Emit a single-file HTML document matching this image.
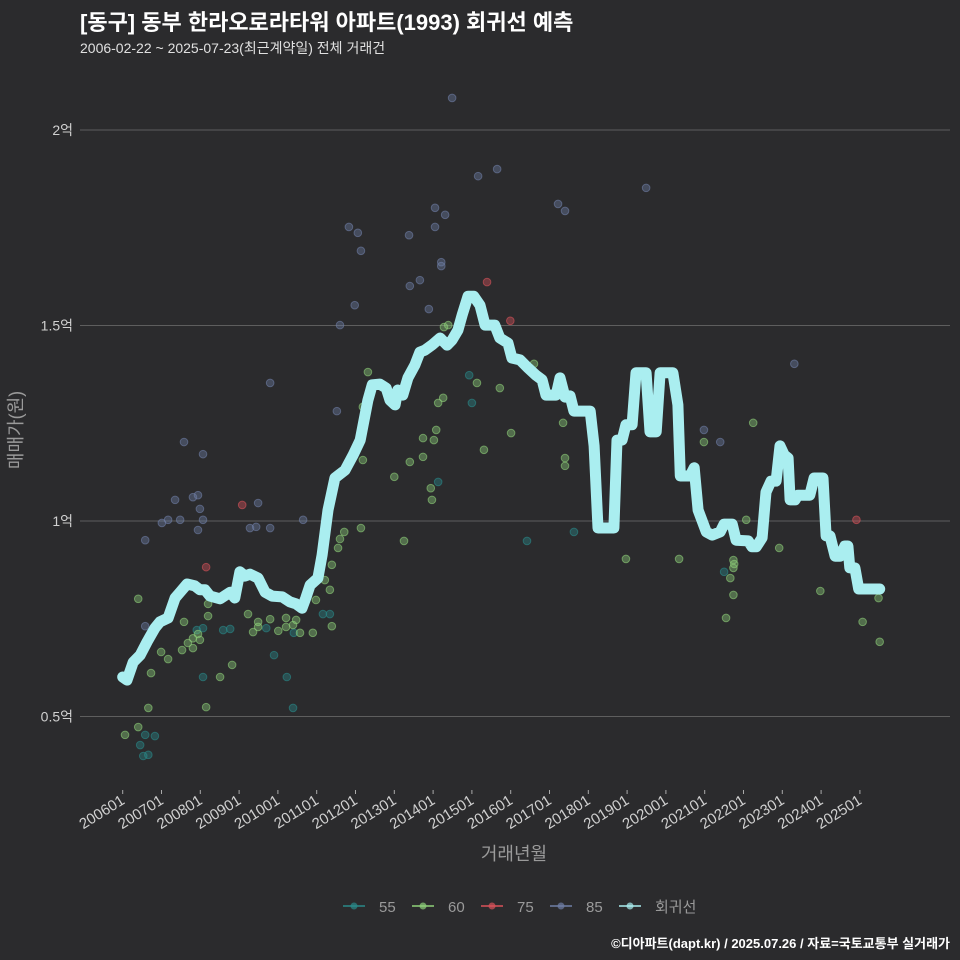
<!DOCTYPE html>
<html><head><meta charset="utf-8">
<style>
html,body{margin:0;padding:0;background:#2b2b2d;}
svg{display:block;font-family:"Liberation Sans","Noto Sans CJK KR",sans-serif;}
</style></head>
<body>
<svg id="chart" width="960" height="960" viewBox="0 0 960 960">
<rect x="0" y="0" width="960" height="960" fill="#2b2b2d"/>
<text x="80" y="30" fill="#ffffff" font-size="22" font-weight="bold">[동구] 동부 한라오로라타워 아파트(1993) 회귀선 예측</text>
<text x="80" y="53" fill="#e0e0e0" font-size="14">2006-02-22 ~ 2025-07-23(최근계약일) 전체 거래건</text>
<g id="grid"></g>
<g id="yticks"></g>
<g id="xticks"></g>
<g id="points"></g>
<g id="reg"></g>
<text x="22" y="430" fill="#9a9a9a" font-size="18" text-anchor="middle" transform="rotate(-90 22 430)">매매가(원)</text>
<text x="514" y="860" fill="#9a9a9a" font-size="18" text-anchor="middle">거래년월</text>
<g id="legend"></g>
<text x="950" y="948" fill="#ffffff" font-size="13" font-weight="bold" text-anchor="end">©디아파트(dapt.kr) / 2025.07.26 / 자료=국토교통부 실거래가</text>
</svg>
<script>
const yTicks=[0.5,1,1.5,2];
const yTickLabels=["0.5억","1억","1.5억","2억"];
const xTickYears=[2006,2007,2008,2009,2010,2011,2012,2013,2014,2015,2016,2017,2018,2019,2020,2021,2022,2023,2024,2025];
const xTickLabels=["200601","200701","200801","200901","201001","201101","201201","201301","201401","201501","201601","201701","201801","201901","202001","202101","202201","202301","202401","202501"];
const regT=[2006.00,2006.11,2006.27,2006.45,2006.63,2006.83,2006.96,2007.17,2007.35,2007.48,2007.66,2007.86,2007.99,2008.12,2008.25,2008.51,2008.77,2008.89,2009.02,2009.15,2009.28,2009.49,2009.67,2009.85,2010.11,2010.31,2010.47,2010.62,2010.72,2010.83,2011.03,2011.14,2011.29,2011.47,2011.73,2011.94,2012.12,2012.32,2012.43,2012.63,2012.79,2012.89,2013.02,2013.09,2013.22,2013.35,2013.53,2013.66,2013.79,2013.97,2014.18,2014.36,2014.49,2014.64,2014.75,2014.90,2015.05,2015.21,2015.34,2015.59,2015.72,2015.93,2016.03,2016.24,2016.45,2016.65,2016.81,2016.91,2017.17,2017.27,2017.40,2017.53,2017.63,2018.05,2018.15,2018.25,2018.66,2018.74,2018.87,2018.97,2019.13,2019.23,2019.49,2019.59,2019.75,2019.85,2020.18,2020.31,2020.37,2020.62,2020.73,2020.83,2021.04,2021.19,2021.40,2021.50,2021.71,2021.81,2022.12,2022.22,2022.33,2022.48,2022.58,2022.71,2022.84,2022.94,2023.05,2023.15,2023.20,2023.33,2023.40,2023.71,2023.82,2024.05,2024.13,2024.23,2024.36,2024.49,2024.61,2024.69,2024.74,2024.87,2024.97,2025.51];
const regV=[0.601,0.593,0.639,0.657,0.691,0.726,0.742,0.752,0.803,0.818,0.839,0.834,0.824,0.824,0.808,0.801,0.818,0.803,0.870,0.859,0.864,0.854,0.818,0.808,0.806,0.793,0.788,0.777,0.803,0.836,0.854,0.913,1.028,1.110,1.130,1.169,1.207,1.309,1.348,1.350,1.340,1.309,1.297,1.335,1.322,1.366,1.399,1.432,1.437,1.450,1.468,1.450,1.463,1.488,1.527,1.575,1.575,1.552,1.501,1.501,1.468,1.455,1.417,1.412,1.391,1.373,1.361,1.322,1.322,1.366,1.317,1.320,1.281,1.281,1.192,0.982,0.982,1.207,1.207,1.246,1.246,1.379,1.379,1.228,1.228,1.379,1.379,1.297,1.115,1.115,1.136,1.028,0.972,0.964,0.972,0.992,0.992,0.951,0.949,0.934,0.934,0.957,1.074,1.102,1.102,1.192,1.169,1.161,1.054,1.054,1.066,1.066,1.110,1.110,0.962,0.962,0.910,0.910,0.936,0.936,0.880,0.880,0.826,0.826];
const s55T=[2006.45,2006.58,2006.53,2006.66,2006.83,2007.91,2008.07,2008.07,2008.59,2008.77,2009.70,2009.90,2010.23,2010.39,2010.41,2011.16,2011.34,2014.93,2015.00,2014.13,2016.42,2017.63,2021.50];
const s55V=[0.427,0.453,0.399,0.402,0.450,0.721,0.601,0.726,0.721,0.724,0.726,0.657,0.601,0.522,0.714,0.762,0.762,1.373,1.302,1.100,0.949,0.972,0.870];
const s60T=[2006.06,2006.40,2006.40,2006.66,2006.73,2006.99,2007.17,2007.53,2007.58,2007.68,2007.81,2007.81,2007.94,2007.99,2008.15,2008.20,2008.20,2008.51,2008.82,2009.23,2009.36,2009.49,2009.49,2009.80,2010.01,2010.21,2010.21,2010.39,2010.47,2010.57,2010.90,2010.98,2011.21,2011.34,2011.39,2011.39,2011.55,2011.60,2011.71,2012.14,2012.19,2012.19,2012.32,2013.00,2013.25,2013.40,2013.74,2013.74,2013.94,2013.97,2014.02,2014.08,2014.13,2014.26,2014.28,2014.39,2015.31,2015.13,2015.72,2016.01,2016.60,2017.35,2017.40,2017.40,2018.97,2020.34,2020.98,2021.55,2021.66,2021.74,2021.74,2021.76,2021.74,2022.07,2022.25,2022.92,2023.98,2025.07,2025.48,2025.51];
const s60V=[0.453,0.473,0.801,0.522,0.611,0.665,0.647,0.670,0.742,0.688,0.700,0.675,0.711,0.696,0.524,0.788,0.757,0.601,0.632,0.762,0.716,0.742,0.729,0.749,0.719,0.752,0.729,0.734,0.747,0.714,0.714,0.798,0.849,0.824,0.731,0.888,0.931,0.954,0.972,0.982,1.156,1.292,1.381,1.113,0.949,1.151,1.164,1.212,1.084,1.054,1.207,1.233,1.302,1.315,1.496,1.501,1.182,1.353,1.340,1.225,1.402,1.251,1.161,1.141,0.903,0.903,1.202,0.752,0.854,0.880,0.900,0.890,0.811,1.003,1.251,0.931,0.821,0.742,0.803,0.691];
const s75T=[2009.08,2008.15,2015.39,2015.99,2024.91];
const s75V=[1.041,0.882,1.611,1.512,1.003];
const s85T=[2006.58,2006.58,2007.01,2007.17,2007.35,2007.48,2007.58,2007.81,2007.94,2007.99,2008.07,2008.07,2007.94,2009.28,2009.44,2009.49,2009.80,2009.80,2010.65,2011.52,2011.60,2011.83,2011.98,2012.06,2012.14,2013.38,2013.40,2013.66,2013.89,2014.05,2014.05,2014.21,2014.21,2014.31,2014.49,2015.16,2015.65,2017.22,2017.40,2019.49,2020.98,2021.40,2023.31];
const s85V=[0.951,0.731,0.995,1.003,1.054,1.003,1.202,1.061,1.066,1.031,1.171,1.003,0.977,0.982,0.985,1.046,1.353,0.982,1.003,1.281,1.501,1.752,1.552,1.737,1.691,1.731,1.601,1.616,1.542,1.801,1.752,1.662,1.652,1.783,2.082,1.882,1.900,1.811,1.793,1.852,1.233,1.202,1.402];

const NS="http://www.w3.org/2000/svg";
function xs(t){return 122.7+38.8*(t-2006);}
function ys(v){return 521-(v-1)*391;}
function mk(tag,attrs,parent){const e=document.createElementNS(NS,tag);for(const k in attrs)e.setAttribute(k,attrs[k]);parent.appendChild(e);return e;}
const grid=document.getElementById('grid'),yt=document.getElementById('yticks'),xt=document.getElementById('xticks');
yTicks.forEach((v,i)=>{
  const l=mk('line',{x1:80,x2:950,y1:ys(v),y2:ys(v),stroke:'#5e5e5e','stroke-width':1},grid);
  
  
  const t=mk('text',{x:73,y:ys(v)+5,fill:'#d0d0d0','font-size':14,'text-anchor':'end'},yt);
  t.textContent=yTickLabels[i];
  
  
});
xTickYears.forEach((yr,i)=>{
  const x=xs(yr);
  const tk=mk('line',{x1:x,x2:x,y1:790,y2:794,stroke:'#aaa','stroke-width':1},xt);
  
  
  const t=mk('text',{x:x+3,y:803,fill:'#d0d0d0','font-size':15,'text-anchor':'end',transform:`rotate(-32 ${x+3} 803)`},xt);
  t.textContent=xTickLabels[i];
  
  
});
const pts=document.getElementById('points');
const series=[[s55T,s55V,'#2a8a8a','area-55'],[s60T,s60V,'#8fd17a','area-60'],[s75T,s75V,'#d9535a','area-75'],[s85T,s85V,'#6f7fa6','area-85']];
series.forEach(s=>{
  s[0].forEach((t,i)=>{
    const c=mk('circle',{cx:xs(t),cy:ys(s[1][i]),r:3.8,fill:s[2],'fill-opacity':0.4,stroke:s[2],'stroke-opacity':0.6,'stroke-width':1},pts);
    
    
  });
});
const reg=document.getElementById('reg');
const d=regT.map((t,i)=>(i?'L':'M')+xs(t).toFixed(1)+','+ys(regV[i]).toFixed(1)).join(' ');
const p=mk('path',{d:d,fill:'none',stroke:'#aaeef0','stroke-width':11,'stroke-linejoin':'round','stroke-linecap':'round'},reg);


const leg=document.getElementById('legend');
const legItems=[['55','#2a8a8a'],['60','#8fd17a'],['75','#d9535a'],['85','#6f7fa6'],['회귀선','#aaeef0']];
const legX=[343,412,481,550,619];
legItems.forEach((it,i)=>{
  const g=mk('g',{},leg);
  
  
  mk('line',{x1:legX[i],x2:legX[i]+22,y1:906,y2:906,stroke:it[1],'stroke-width':1.5},g);
  mk('circle',{cx:legX[i]+11,cy:906,r:3.5,fill:it[1],'fill-opacity':0.7},g);
  const t=mk('text',{x:legX[i]+36,y:912,fill:'#9a9a9a','font-size':15},g);
  t.textContent=it[0];
});
</script>
</body></html>
